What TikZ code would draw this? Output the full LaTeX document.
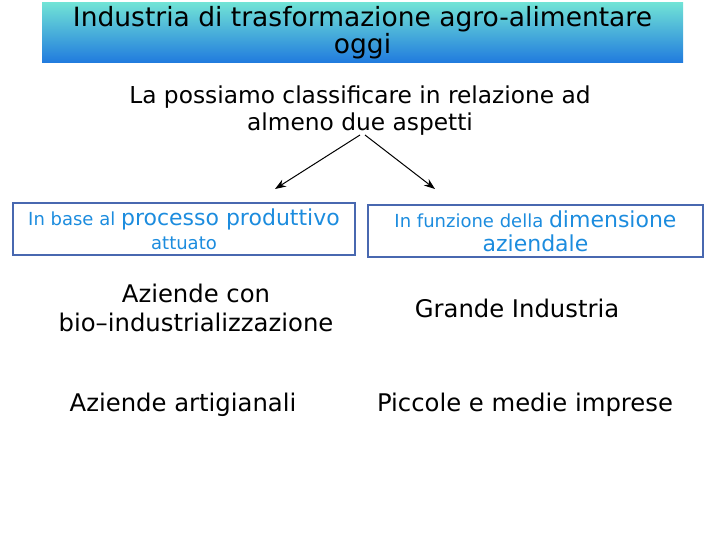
\documentclass[tikz,border=0pt]{standalone}
\usepackage{fontspec}
\setmainfont{DejaVu Sans}
\usetikzlibrary{arrows.meta}
\definecolor{bannertop}{RGB}{112,226,214}
\definecolor{bannerbot}{RGB}{32,122,222}
\definecolor{boxline}{RGB}{72,104,176}
\definecolor{boxtext}{RGB}{28,140,222}
\begin{document}
\begin{tikzpicture}[x=1pt,y=-1pt]
    \tikzstyle{every node}=[align=center,inner sep=0pt];
    \tikzstyle{body}=[font=\fontsize{24.3}{29}\selectfont];
    \tikzstyle{aspect}=[draw=boxline,line width=1.3pt,text=boxtext,minimum height=52pt,font=\fontsize{22}{24}\selectfont];
    \tikzstyle{branch}=[-{Stealth[length=11pt,width=8pt]},line width=1pt];
    \useasboundingbox (0,0) rectangle (720,540);

    \node at (362.5, 33) (title) [top color=bannertop,bottom color=bannerbot,minimum width=641pt,minimum height=60pt,font=\fontsize{26.5}{27}\selectfont] {Industria di trasformazione agro-alimentare\\oggi};
    \node at (360, 111) (intro) [font=\fontsize{23.3}{27}\selectfont] {La possiamo classificare in relazione ad\\almeno due aspetti};

    \coordinate (apexl) at (360, 135);
    \coordinate (apexr) at (365, 135);
    \coordinate (endl) at (275, 189);
    \coordinate (endr) at (435, 189);

    \node at (184, 229) (base) [aspect,minimum width=342pt] {{\fontsize{18}{24}\selectfont In base al }processo produttivo\\{\fontsize{18}{24}\selectfont attuato}};
    \node at (535.5, 231) (funz) [aspect,minimum width=335pt] {{\fontsize{18}{24}\selectfont In funzione della }dimensione\\aziendale};

    \node at (196, 308) (bio) [body] {Aziende con\\bio–industrializzazione};
    \node at (517, 308) (grande) [body] {Grande Industria};
    \node at (183, 405) (artig) [body] {Aziende artigianali};
    \node at (525, 405) (piccole) [body] {Piccole e medie imprese};

    \draw[branch] (apexl) to (endl);
    \draw[branch] (apexr) to (endr);
\end{tikzpicture}
\end{document}
